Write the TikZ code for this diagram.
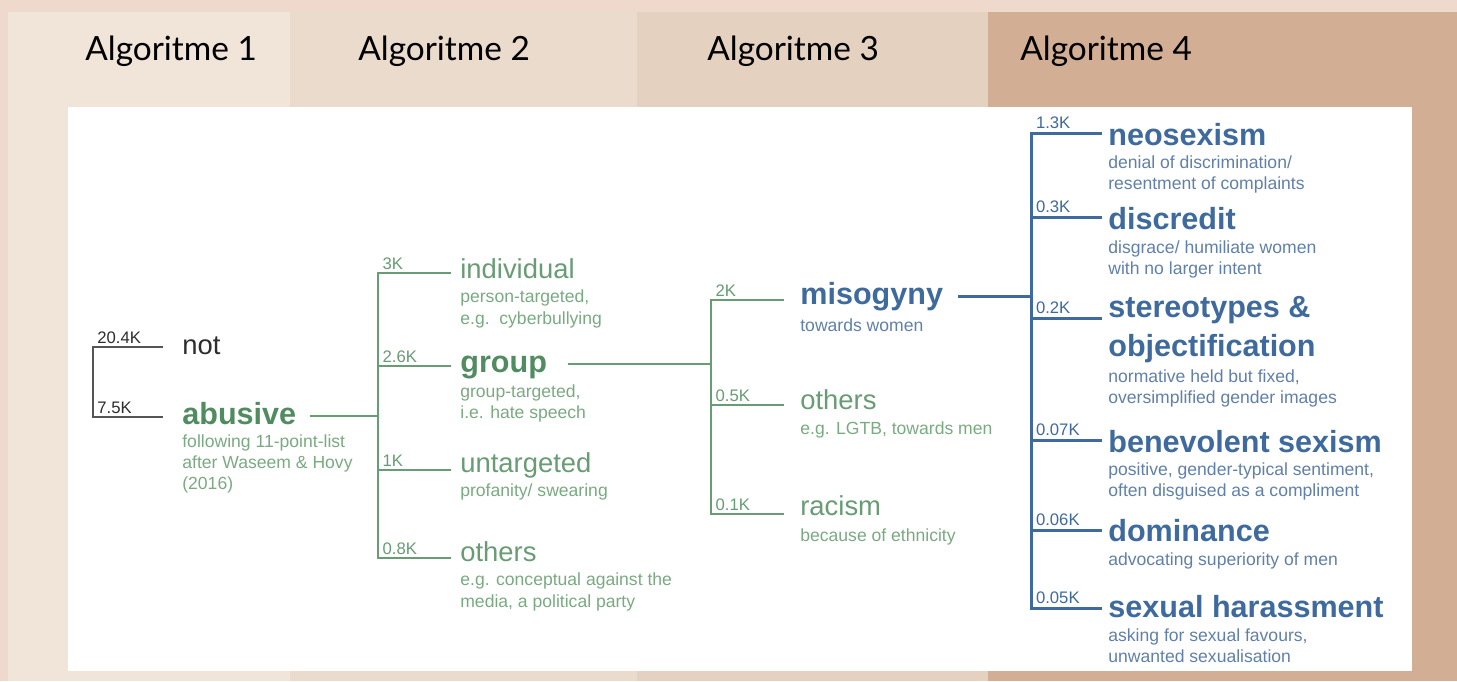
\documentclass[tikz,border=0pt]{standalone}
\usepackage{fontspec}
\setmainfont{Liberation Sans}
\newfontfamily\headfont{Lato}
\usetikzlibrary{calc,positioning}
\definecolor{pink1}{RGB}{239,216,204}
\definecolor{band1}{RGB}{241,228,217}
\definecolor{band2}{RGB}{235,219,205}
\definecolor{band3}{RGB}{229,209,191}
\definecolor{band4}{RGB}{210,175,148}
\definecolor{green1}{RGB}{104,156,116}
\definecolor{green2}{RGB}{80,140,96}
\definecolor{green3}{RGB}{122,170,130}
\definecolor{blue1}{RGB}{62,106,158}
\definecolor{blue2}{RGB}{96,128,170}
\definecolor{gray1}{RGB}{85,85,85}
\definecolor{gray2}{RGB}{45,45,45}

\begin{document}
\begin{tikzpicture}[x=0.02cm, y=-0.02cm,
  ttl/.style={anchor=west, inner sep=0pt, font=\fontsize{15.6}{18}\selectfont, text height=11.7pt, text depth=3.4pt},
  ttlb/.style={ttl, font=\fontsize{17.4}{20}\selectfont\bfseries, text height=13pt, text depth=3.8pt},
  sub/.style={align=left, inner sep=0pt, font=\fontsize{10}{12}\selectfont},
  cnt/.style={anchor=south west, inner xsep=2pt, inner ysep=1.5pt, font=\fontsize{9.5}{11}\selectfont},
  hdr/.style={anchor=base west, inner sep=0pt, font=\headfont\fontsize{19}{22}\selectfont},
  kline/.style={draw=gray1, line width=1pt, line cap=rect},
  gline/.style={draw=green1, line width=1.25pt, line cap=rect},
  bline/.style={draw=blue1, line width=1.7pt, line cap=rect}]

\useasboundingbox (0,0) rectangle (1457,681);

% ----- background bands and panel -----
\fill[pink1] (0,0) rectangle (1457,681);
\foreach \xa/\xb/\c in {8/290/band1,290/637/band2,637/988/band3,988/1457/band4}
  \fill[\c] (\xa,12) rectangle (\xb,681);
\fill[white] (68,107) rectangle (1412,671);

\foreach \x/\n in {85/1,358/2,707/3,1020/4}
  \node[hdr] (h\n) at (\x,60) {Algoritme \n};

% ----- LEVEL 1: not / abusive -----
\coordinate (b1a) at (93,347);
\coordinate (b1b) at (93,417);
\node[ttl, text=gray2] (nt) at (182,347) {not};
\node[ttlb, text=green2] (abus) at (182,416) {abusive};
\node[sub, text=green3, below right=2pt and 0pt of abus.south west] (abusS) {following 11-point-list\\after Waseem \& Hovy\\(2016)};
\draw[kline] (b1a) -- (b1b);
\draw[kline, shorten >=0.4cm] (b1a) -- node[cnt, pos=0, text=gray2] (c1a) {20.4K} (b1a -| nt.west);
\draw[kline, shorten >=0.4cm] (b1b) -- node[cnt, pos=0, text=gray2] (c1b) {7.5K} (b1b -| abus.west);

% ----- LEVEL 2: targets -----
\coordinate (b2a) at (378,273);
\coordinate (b2b) at (378,366);
\coordinate (b2c) at (378,470);
\coordinate (b2d) at (378,558);
\node[ttl, text=green1] (ind) at (460,271) {individual};
\node[sub, text=green3, below right=3pt and 0pt of ind.south west] (indS) {person-targeted,\\e.g.\ \ cyberbullying};
\node[ttlb, text=green2] (grp) at (460,364) {group};
\node[sub, text=green3, below right=3pt and 0pt of grp.south west] (grpS) {group-targeted,\\i.e. hate speech};
\node[ttl, text=green1] (untg) at (460,465) {untargeted};
\node[sub, text=green3, below right=3pt and 0pt of untg.south west] (untgS) {profanity/ swearing};
\node[ttl, text=green1] (oth2) at (460,554) {others};
\node[sub, text=green3, below right=3pt and 0pt of oth2.south west] (oth2S) {e.g. conceptual against the\\media, a political party};
\draw[gline, shorten <=0.3cm] (abus.east) -- (abus.east -| b2a);
\draw[gline] (b2a) -- (b2d);
\draw[gline, shorten >=0.2cm] (b2a) -- node[cnt, pos=0, text=green1] (c2a) {3K} (b2a -| ind.west);
\draw[gline, shorten >=0.2cm] (b2b) -- node[cnt, pos=0, text=green1] (c2b) {2.6K} (b2b -| grp.west);
\draw[gline, shorten >=0.2cm] (b2c) -- node[cnt, pos=0, text=green1] (c2c) {1K} (b2c -| untg.west);
\draw[gline, shorten >=0.2cm] (b2d) -- node[cnt, pos=0, text=green1] (c2d) {0.8K} (b2d -| oth2.west);

% ----- LEVEL 3: group kinds -----
\coordinate (b3a) at (711,300);
\coordinate (b3b) at (711,405);
\coordinate (b3c) at (711,514);
\node[ttlb, text=blue1] (mis) at (800,296) {misogyny};
\node[sub, text=blue2, below right=4pt and 0pt of mis.south west] (misS) {towards women};
\node[ttl, text=green1] (oth3) at (800,402) {others};
\node[sub, text=green3, below right=3.5pt and 0pt of oth3.south west] (oth3S) {e.g. LGTB, towards men};
\node[ttl, text=green1] (rac) at (800,508) {racism};
\node[sub, text=green3, below right=4pt and 0pt of rac.south west] (racS) {because of ethnicity};
\draw[gline, shorten <=0.44cm] (grp.east) -- (grp.east -| b3a);
\draw[gline] (b3a) -- (b3c);
\draw[gline, shorten >=0.34cm] (b3a) -- node[cnt, pos=0, text=green1] (c3a) {2K} (b3a -| mis.west);
\draw[gline, shorten >=0.34cm] (b3b) -- node[cnt, pos=0, text=green1] (c3b) {0.5K} (b3b -| oth3.west);
\draw[gline, shorten >=0.34cm] (b3c) -- node[cnt, pos=0, text=green1] (c3c) {0.1K} (b3c -| rac.west);

% ----- LEVEL 4: misogyny kinds -----
\coordinate (b4a) at (1031,133);
\coordinate (b4b) at (1031,217);
\coordinate (b4c) at (1031,318);
\coordinate (b4d) at (1031,440);
\coordinate (b4e) at (1031,530);
\coordinate (b4f) at (1031,608);
\node[ttlb, text=blue1] (neo) at (1108,137) {neosexism};
\node[sub, text=blue2, below right=2pt and 0pt of neo.south west] (neoS) {denial of discrimination/\\resentment of complaints};
\node[ttlb, text=blue1] (disc) at (1108,221) {discredit};
\node[sub, text=blue2, below right=2.5pt and 0pt of disc.south west] (discS) {disgrace/ humiliate women\\with no larger intent};
\node[ttlb, text=blue1] (ster) at (1108,309) {stereotypes \&};
\node[ttlb, text=blue1, below right=5.5pt and 0pt of ster.south west] (obj) {objectification};
\node[sub, text=blue2, below right=3pt and 0pt of obj.south west] (objS) {normative held but fixed,\\oversimplified gender images};
\node[ttlb, text=blue1] (benev) at (1108,444) {benevolent sexism};
\node[sub, text=blue2, below right=2pt and 0pt of benev.south west] (benevS) {positive, gender-typical sentiment,\\often disguised as a compliment};
\node[ttlb, text=blue1] (dom) at (1108,533) {dominance};
\node[sub, text=blue2, below right=2.5pt and 0pt of dom.south west] (domS) {advocating superiority of men};
\node[ttlb, text=blue1] (sex) at (1108,609) {sexual harassment};
\node[sub, text=blue2, below right=2.5pt and 0pt of sex.south west] (sexS) {asking for sexual favours,\\unwanted sexualisation};
\draw[bline, shorten <=0.32cm] (mis.east) -- (mis.east -| b4a);
\draw[bline] (b4a) -- (b4f);
\draw[bline, shorten >=0.16cm] (b4a) -- node[cnt, pos=0, text=blue1] (c4a) {1.3K} (b4a -| neo.west);
\draw[bline, shorten >=0.16cm] (b4b) -- node[cnt, pos=0, text=blue1] (c4b) {0.3K} (b4b -| disc.west);
\draw[bline, shorten >=0.16cm] (b4c) -- node[cnt, pos=0, text=blue1] (c4c) {0.2K} (b4c -| ster.west);
\draw[bline, shorten >=0.16cm] (b4d) -- node[cnt, pos=0, text=blue1] (c4d) {0.07K} (b4d -| benev.west);
\draw[bline, shorten >=0.16cm] (b4e) -- node[cnt, pos=0, text=blue1] (c4e) {0.06K} (b4e -| dom.west);
\draw[bline, shorten >=0.16cm] (b4f) -- node[cnt, pos=0, text=blue1] (c4f) {0.05K} (b4f -| sex.west);

\end{tikzpicture}
\end{document}
